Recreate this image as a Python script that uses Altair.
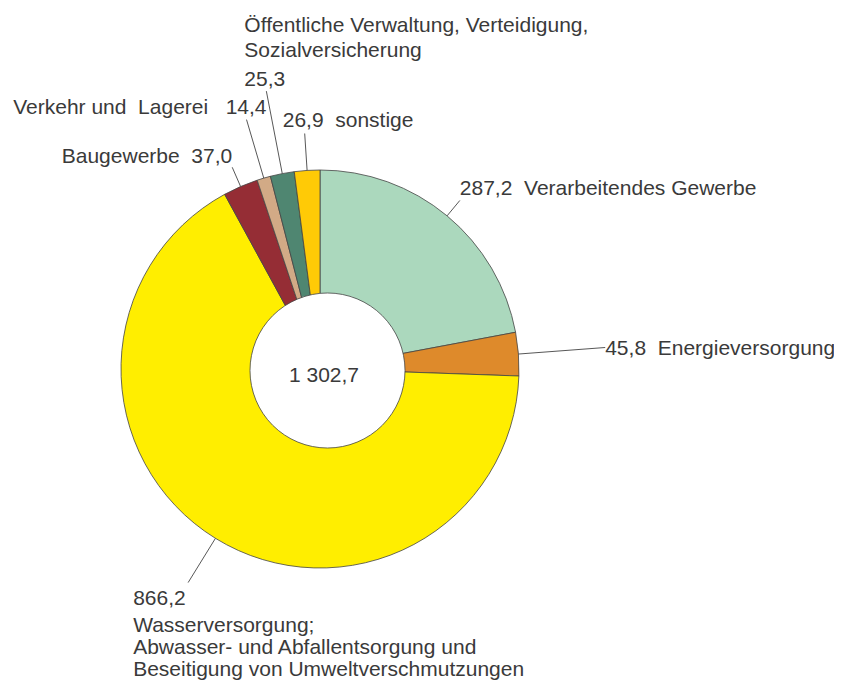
import altair as alt
import pandas as pd

# ---- data ----
categories = [
    "Verarbeitendes Gewerbe",
    "Energieversorgung",
    "Wasserversorgung; Abwasser- und Abfallentsorgung und Beseitigung von Umweltverschmutzungen",
    "Baugewerbe",
    "Verkehr und Lagerei",
    "Öffentliche Verwaltung, Verteidigung, Sozialversicherung",
    "sonstige",
]
values = [287.2, 45.8, 866.2, 37.0, 14.4, 25.3, 26.9]
value_labels = ["287,2", "45,8", "866,2", "37,0", "14,4", "25,3", "26,9"]
total_label = "1 302,7"

NB = "\u00a0"
main_labels = [
    "287,2" + NB * 2 + "Verarbeitendes Gewerbe",
    "45,8" + NB * 2 + "Energieversorgung",
    "866,2",
    "Baugewerbe" + NB * 2 + "37,0",
    "Verkehr und" + NB * 2 + "Lagerei" + NB * 3 + "14,4",
    "25,3",
    "26,9" + NB * 2 + "sonstige",
]
name_blocks = [
    "",
    "",
    "Wasserversorgung;\nAbwasser- und Abfallentsorgung und\nBeseitigung von Umweltverschmutzungen",
    "",
    "",
    "Öffentliche Verwaltung, Verteidigung,\nSozialversicherung",
    "",
]

# ---- styles / layout ----
colors = ["#abd8bd", "#de8a2b", "#ffee00", "#952d35", "#d2aa86", "#4f8671", "#ffca06"]
leader_len = [20, 87, 52, 21, 61, 84, 37]
label_dx = [0, 0, -55, 0, 20, -22, -22]
label_dy = [-5, 7, 22, -4, -6, -5, -6]
label_align = ["left", "left", "left", "right", "right", "left", "left"]
name_dx = [0, 0, -55, 0, 0, -22, 0]
name_dy = [0, 0, 49, 0, 0, -59, 0]
name_lh = [0, 0, 22, 0, 0, 24.5, 0]

CX, CY, R = 312, 361, 199
HX, HY, HD = 319.5, 362.5, 155
FONT = "Liberation Sans"
TXT = "#3a3a3a"
LINE = "#444444"

df = pd.DataFrame({
    "category": categories,
    "value": values,
    "order": list(range(len(values))),
    "label": main_labels,
    "name": name_blocks,
    "lead": leader_len,
    "ldx": label_dx,
    "ldy": label_dy,
    "align": label_align,
    "ndx": name_dx,
    "ndy": name_dy,
    "lh": name_lh,
})

pie = alt.Chart(df).mark_arc(
    outerRadius=R, innerRadius=0, stroke=LINE, strokeWidth=0.8
).encode(
    theta=alt.Theta("value:Q", stack=True),
    order=alt.Order("order:Q"),
    color=alt.Color("category:N", scale=alt.Scale(domain=categories, range=colors), legend=None),
    x=alt.value(CX),
    y=alt.value(CY),
)

geo = alt.Chart(df).transform_window(
    cum="sum(value)", sort=[alt.SortField("order", order="ascending")]
).transform_joinaggregate(
    total="sum(value)"
).transform_calculate(
    mid="2*PI*(datum.cum - datum.value/2)/datum.total",
).transform_calculate(
    x1=f"{CX} + {R}*sin(datum.mid)",
    y1=f"{CY} - {R}*cos(datum.mid)",
    x2=f"{CX} + ({R} + datum.lead)*sin(datum.mid)",
    y2=f"{CY} - ({R} + datum.lead)*cos(datum.mid)",
).transform_calculate(
    lx="datum.x2 + datum.ldx",
    ly="datum.y2 + datum.ldy",
    nx="datum.x2 + datum.ndx",
    ny="datum.y2 + datum.ndy",
)

leaders = geo.mark_rule(color=LINE, strokeWidth=0.9).encode(
    x=alt.X("x1:Q", scale=None),
    y=alt.Y("y1:Q", scale=None),
    x2="x2:Q",
    y2="y2:Q",
)

def label_layer(al):
    return geo.transform_filter(f"datum.align == '{al}'").mark_text(
        align=al, baseline="alphabetic", font=FONT, fontSize=21, color=TXT
    ).encode(
        x=alt.X("lx:Q", scale=None),
        y=alt.Y("ly:Q", scale=None),
        text="label:N",
    )

def name_layer(lh):
    return geo.transform_filter(f"datum.name != '' && datum.lh == {lh}").mark_text(
        align="left", baseline="alphabetic", font=FONT, fontSize=21, color=TXT,
        lineBreak="\n", lineHeight=lh
    ).encode(
        x=alt.X("nx:Q", scale=None),
        y=alt.Y("ny:Q", scale=None),
        text="name:N",
    )

center_df = pd.DataFrame({"t": [total_label]})
hole = alt.Chart(center_df).mark_point(
    shape="circle", filled=True, fill="white", stroke=LINE, strokeWidth=0.8,
    size=HD * HD, opacity=1
).encode(x=alt.value(HX), y=alt.value(HY))

center_text = alt.Chart(center_df).mark_text(
    align="center", baseline="alphabetic", font=FONT, fontSize=21, color=TXT
).encode(x=alt.value(316), y=alt.value(374), text="t:N")

chart = alt.layer(
    pie, hole, center_text, leaders, label_layer("left"), label_layer("right"),
    name_layer(22), name_layer(24.5)
).properties(
    width=826, height=672, padding=0, autosize="none"
).configure_view(stroke=None)

chart.save("out.html", embed_options={"renderer": "svg", "actions": False})
